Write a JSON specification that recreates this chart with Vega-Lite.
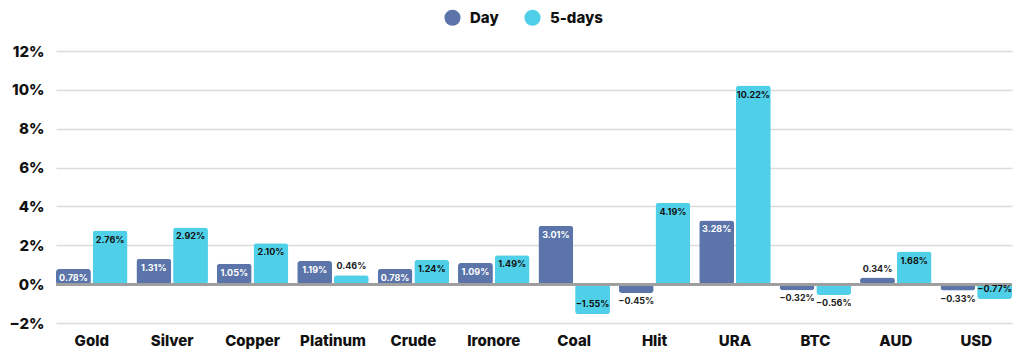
{
  "$schema": "https://vega.github.io/schema/vega-lite/v6.json",
  "width": 1024,
  "height": 360,
  "autosize": {"type": "fit", "contains": "padding"},
  "padding": {"left": 8, "right": 11, "top": 44, "bottom": 12},
  "background": "white",
  "config": {"view": {"stroke": null}, "font": "Inter"},
  "data": {"values": [
    {"asset": "Gold", "series": "Day", "value": 0.0078},
    {"asset": "Gold", "series": "5-days", "value": 0.0276},
    {"asset": "Silver", "series": "Day", "value": 0.0131},
    {"asset": "Silver", "series": "5-days", "value": 0.0292},
    {"asset": "Copper", "series": "Day", "value": 0.0105},
    {"asset": "Copper", "series": "5-days", "value": 0.0210},
    {"asset": "Platinum", "series": "Day", "value": 0.0119},
    {"asset": "Platinum", "series": "5-days", "value": 0.0046},
    {"asset": "Crude", "series": "Day", "value": 0.0078},
    {"asset": "Crude", "series": "5-days", "value": 0.0124},
    {"asset": "Ironore", "series": "Day", "value": 0.0109},
    {"asset": "Ironore", "series": "5-days", "value": 0.0149},
    {"asset": "Coal", "series": "Day", "value": 0.0301},
    {"asset": "Coal", "series": "5-days", "value": -0.0155},
    {"asset": "Hlit", "series": "Day", "value": -0.0045},
    {"asset": "Hlit", "series": "5-days", "value": 0.0419},
    {"asset": "URA", "series": "Day", "value": 0.0328},
    {"asset": "URA", "series": "5-days", "value": 0.1022},
    {"asset": "BTC", "series": "Day", "value": -0.0032},
    {"asset": "BTC", "series": "5-days", "value": -0.0056},
    {"asset": "AUD", "series": "Day", "value": 0.0034},
    {"asset": "AUD", "series": "5-days", "value": 0.0168},
    {"asset": "USD", "series": "Day", "value": -0.0033},
    {"asset": "USD", "series": "5-days", "value": -0.0077}
  ]},
  "layer": [
    {
      "mark": {"type": "bar", "cornerRadius": 3},
      "encoding": {
        "x": {"field": "asset", "type": "nominal", "sort": null,
              "scale": {"paddingInner": 0.11, "paddingOuter": 0},
              "axis": {"title": null, "labelAngle": 0, "domain": false, "ticks": false, "labelOverlap": false,
                       "labelFontSize": 15, "labelFontWeight": 800, "labelColor": "#111", "labelPadding": 10}},
        "xOffset": {"field": "series", "sort": ["Day", "5-days"], "scale": {"paddingInner": 0.05}},
        "y": {"field": "value", "type": "quantitative",
              "scale": {"domain": [-0.02, 0.12], "nice": false},
              "axis": {"title": null, "format": ".0%", "values": [-0.02, 0, 0.02, 0.04, 0.06, 0.08, 0.1, 0.12],
                       "tickCount": 8, "labelOverlap": false,
                       "domain": false, "ticks": false, "gridColor": "#dcdcdc", "gridWidth": 1.5,
                       "labelFontSize": 15, "labelFontWeight": 800, "labelColor": "#111", "labelPadding": 12}},
        "color": {"field": "series", "type": "nominal",
                  "scale": {"domain": ["Day", "5-days"], "range": ["#5b75aa", "#50d0e8"]},
                  "legend": {"title": null, "orient": "none", "direction": "horizontal",
                             "legendX": 388, "legendY": -42, "symbolType": "circle", "symbolSize": 260,
                             "symbolStrokeWidth": 0, "labelFontSize": 15, "labelFontWeight": 800,
                             "labelColor": "#111", "columnPadding": 25, "labelOffset": 9}}
      }
    },
    {
      "mark": {"type": "rule", "color": "#9e9e9e", "strokeWidth": 2},
      "encoding": {"y": {"datum": 0}}
    },
    {
      "transform": [{"filter": "datum.value >= 0.007"}],
      "mark": {"type": "text", "baseline": "top", "dy": 5, "fontSize": 9, "fontWeight": "bold"},
      "encoding": {
        "x": {"field": "asset", "type": "nominal", "sort": null},
        "xOffset": {"field": "series", "sort": ["Day", "5-days"]},
        "y": {"field": "value", "type": "quantitative"},
        "text": {"field": "value", "format": ".2%"},
        "color": {"condition": {"test": "datum.series === 'Day'", "value": "white"}, "value": "#111"}
      }
    },
    {
      "transform": [{"filter": "datum.value >= 0 && datum.value < 0.007"}],
      "mark": {"type": "text", "baseline": "bottom", "dy": -4, "fontSize": 9, "fontWeight": "bold", "color": "#222"},
      "encoding": {
        "x": {"field": "asset", "type": "nominal", "sort": null},
        "xOffset": {"field": "series", "sort": ["Day", "5-days"]},
        "y": {"field": "value", "type": "quantitative"},
        "text": {"field": "value", "format": ".2%"}
      }
    },
    {
      "transform": [{"filter": "datum.value <= -0.007"}],
      "mark": {"type": "text", "baseline": "bottom", "dy": -5, "fontSize": 9, "fontWeight": "bold"},
      "encoding": {
        "x": {"field": "asset", "type": "nominal", "sort": null},
        "xOffset": {"field": "series", "sort": ["Day", "5-days"]},
        "y": {"field": "value", "type": "quantitative"},
        "text": {"field": "value", "format": ".2%"},
        "color": {"condition": {"test": "datum.series === 'Day'", "value": "white"}, "value": "#111"}
      }
    },
    {
      "transform": [{"filter": "datum.value < 0 && datum.value > -0.007"}],
      "mark": {"type": "text", "baseline": "top", "dy": 4, "fontSize": 9, "fontWeight": "bold", "color": "#222"},
      "encoding": {
        "x": {"field": "asset", "type": "nominal", "sort": null},
        "xOffset": {"field": "series", "sort": ["Day", "5-days"]},
        "y": {"field": "value", "type": "quantitative"},
        "text": {"field": "value", "format": ".2%"}
      }
    }
  ]
}
